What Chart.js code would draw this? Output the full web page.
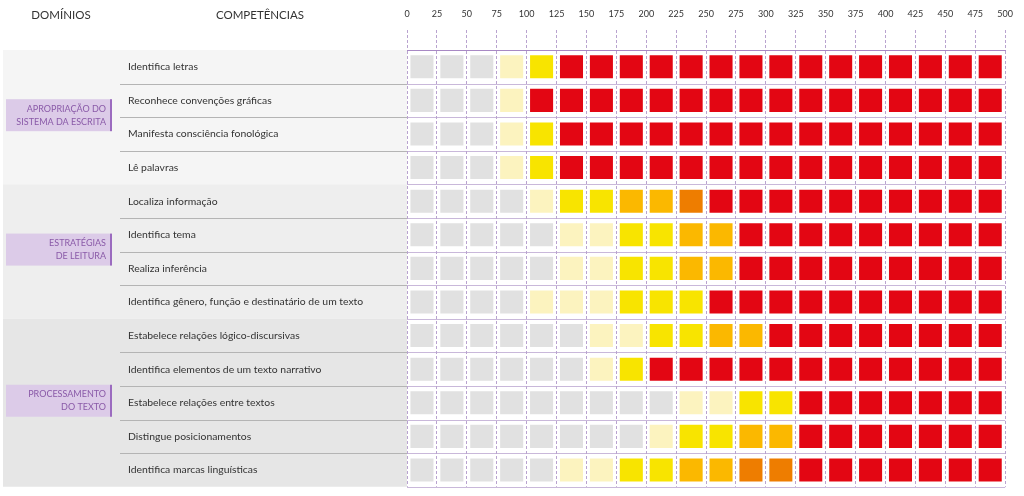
<!DOCTYPE html>
<html>
<head>
<meta charset="utf-8">
<script src="https://cdn.jsdelivr.net/npm/chart.js@4.4.0/dist/chart.umd.min.js"></script>
<style>
  html, body { margin: 0; padding: 0; background: #fff; }
</style>
</head>
<body>
<canvas id="grid" width="1024" height="496"></canvas>
<script>
  // proficiency scale, one column per 25 points
  const xTicks = [0, 25, 50, 75, 100, 125, 150, 175, 200, 225, 250, 275, 300, 325, 350, 375, 400, 425, 450, 475, 500];

  const domainLabels = [
    ["APROPRIAÇÃO DO", "SISTEMA DA ESCRITA"],
    ["ESTRATÉGIAS", "DE LEITURA"],
    ["PROCESSAMENTO", "DO TEXTO"],
  ];
  const domainRows = [4, 4, 5];

  const competencias = [
    "Identifica letras",
    "Reconhece convenções gráficas",
    "Manifesta consciência fonológica",
    "Lê palavras",
    "Localiza informação",
    "Identifica tema",
    "Realiza inferência",
    "Identifica gênero, função e destinatário de um texto",
    "Estabelece relações lógico-discursivas",
    "Identifica elementos de um texto narrativo",
    "Estabelece relações entre textos",
    "Distingue posicionamentos",
    "Identifica marcas linguísticas",
  ];

  // 0 = gray, 1 = pale yellow, 2 = yellow, 3 = orange, 4 = dark orange, 5 = red
  const levels = [
    [0, 0, 0, 1, 2, 5, 5, 5, 5, 5, 5, 5, 5, 5, 5, 5, 5, 5, 5, 5],
    [0, 0, 0, 1, 5, 5, 5, 5, 5, 5, 5, 5, 5, 5, 5, 5, 5, 5, 5, 5],
    [0, 0, 0, 1, 2, 5, 5, 5, 5, 5, 5, 5, 5, 5, 5, 5, 5, 5, 5, 5],
    [0, 0, 0, 1, 2, 5, 5, 5, 5, 5, 5, 5, 5, 5, 5, 5, 5, 5, 5, 5],
    [0, 0, 0, 0, 1, 2, 2, 3, 3, 4, 5, 5, 5, 5, 5, 5, 5, 5, 5, 5],
    [0, 0, 0, 0, 0, 1, 1, 2, 2, 3, 3, 5, 5, 5, 5, 5, 5, 5, 5, 5],
    [0, 0, 0, 0, 0, 1, 1, 2, 2, 3, 3, 5, 5, 5, 5, 5, 5, 5, 5, 5],
    [0, 0, 0, 0, 1, 1, 1, 2, 2, 2, 5, 5, 5, 5, 5, 5, 5, 5, 5, 5],
    [0, 0, 0, 0, 0, 0, 1, 1, 2, 2, 3, 3, 5, 5, 5, 5, 5, 5, 5, 5],
    [0, 0, 0, 0, 0, 0, 1, 2, 5, 5, 5, 5, 5, 5, 5, 5, 5, 5, 5, 5],
    [0, 0, 0, 0, 0, 0, 0, 0, 0, 1, 1, 2, 2, 5, 5, 5, 5, 5, 5, 5],
    [0, 0, 0, 0, 0, 0, 0, 0, 1, 2, 2, 3, 3, 5, 5, 5, 5, 5, 5, 5],
    [0, 0, 0, 0, 0, 1, 1, 2, 2, 3, 3, 4, 4, 5, 5, 5, 5, 5, 5, 5],
  ];

  const levelColors = ["#e1e1e1", "#fcf3bf", "#f8e400", "#fbb800", "#ee7d00", "#e30613"];
  const bandColors = ["#f5f5f5", "#eeeeee", "#e6e6e6"];
  const purple = "#b9a3cf";

  Chart.defaults.font.family = "Lato, 'Open Sans', sans-serif";
  Chart.defaults.color = "#333";

  const points = [];
  const colors = [];
  levels.forEach((row, r) => {
    row.forEach((lvl, c) => {
      points.push({ x: xTicks[c] + 12.5, y: r });
      colors.push(levelColors[lvl]);
    });
  });

  const decor = {
    id: "decor",
    beforeDraw(chart) {
      const ctx = chart.ctx;
      const area = chart.chartArea;
      const y = chart.scales.y;
      ctx.save();
      let start = 0;
      domainRows.forEach((n, d) => {
        const top = y.getPixelForValue(start - 0.5);
        const bot = y.getPixelForValue(start + n - 0.5);
        ctx.fillStyle = bandColors[d];
        ctx.fillRect(3, top, area.left - 3, bot - top);

        ctx.strokeStyle = "#b4b4b4";
        ctx.lineWidth = 1;
        for (let k = 1; k < n; k++) {
          const yy = Math.round(y.getPixelForValue(start + k - 0.5)) + 0.5;
          ctx.beginPath();
          ctx.moveTo(120, yy);
          ctx.lineTo(area.left, yy);
          ctx.stroke();
        }

        // domain tag
        const mid = (top + bot) / 2 - 2;
        ctx.fillStyle = "#dccbe8";
        ctx.fillRect(6, mid - 16, 104, 32);
        ctx.fillStyle = "#9b6bbf";
        ctx.fillRect(110, mid - 16, 2, 32);
        ctx.fillStyle = "#8a5aa8";
        ctx.font = "9px Lato, 'Open Sans', sans-serif";
        ctx.textAlign = "right";
        ctx.textBaseline = "middle";
        ctx.fillText(domainLabels[d][0], 106, mid - 6.5);
        ctx.fillText(domainLabels[d][1], 106, mid + 6.5);
        start += n;
      });

      // row separators inside the grid
      ctx.strokeStyle = "#c9b8da";
      for (let i = 0; i < competencias.length; i++) {
        const yy = Math.round(y.getPixelForValue(i + 0.5)) + 0.5;
        ctx.beginPath();
        ctx.moveTo(area.left, yy);
        ctx.lineTo(area.right, yy);
        ctx.stroke();
      }

      // column headers
      ctx.fillStyle = "#333";
      ctx.font = "11.5px Lato, 'Open Sans', sans-serif";
      ctx.textAlign = "center";
      ctx.textBaseline = "middle";
      ctx.fillText("DOMÍNIOS", 61, 15);
      ctx.fillText("COMPETÊNCIAS", 260, 15);
      ctx.restore();
    },
  };

  new Chart(document.getElementById("grid"), {
    type: "scatter",
    data: {
      datasets: [
        {
          data: points,
          backgroundColor: colors,
          borderWidth: 0,
          pointStyle: "rect",
          pointRadius: 16.3,
          pointHoverRadius: 16.3,
        },
      ],
    },
    options: {
      responsive: false,
      animation: false,
      events: [],
      layout: { autoPadding: false, padding: { left: 128, right: 18, top: 0, bottom: 8 } },
      plugins: { legend: { display: false }, tooltip: { enabled: false } },
      scales: {
        x: {
          type: "linear",
          position: "top",
          min: 0,
          max: 500,
          afterBuildTicks: (s) => {
            s.ticks = xTicks.map((v) => ({ value: v }));
          },
          afterFit: (s) => {
            s.height = 50;
          },
          ticks: { font: { size: 9 }, color: "#333", padding: 11, maxRotation: 0, autoSkip: false },
          grid: {
            color: purple,
            lineWidth: 1,
            tickLength: 20,
            tickColor: purple,
            tickBorderDash: [3, 2],
          },
          border: { display: true, color: "#a889c4", width: 1, dash: [3, 2] },
        },
        y: {
          type: "linear",
          min: -0.5,
          max: 12.5,
          reverse: true,
          afterBuildTicks: (s) => {
            s.ticks = competencias.map((_, i) => ({ value: i }));
          },
          afterFit: (s) => {
            s.width = 279;
          },
          ticks: {
            autoSkip: false,
            crossAlign: "far",
            font: { size: 10.4 },
            color: "#333",
            callback: (v) => competencias[v],
          },
          grid: { display: false },
          border: { display: false },
        },
      },
    },
    plugins: [decor],
  });
</script>
</body>
</html>
